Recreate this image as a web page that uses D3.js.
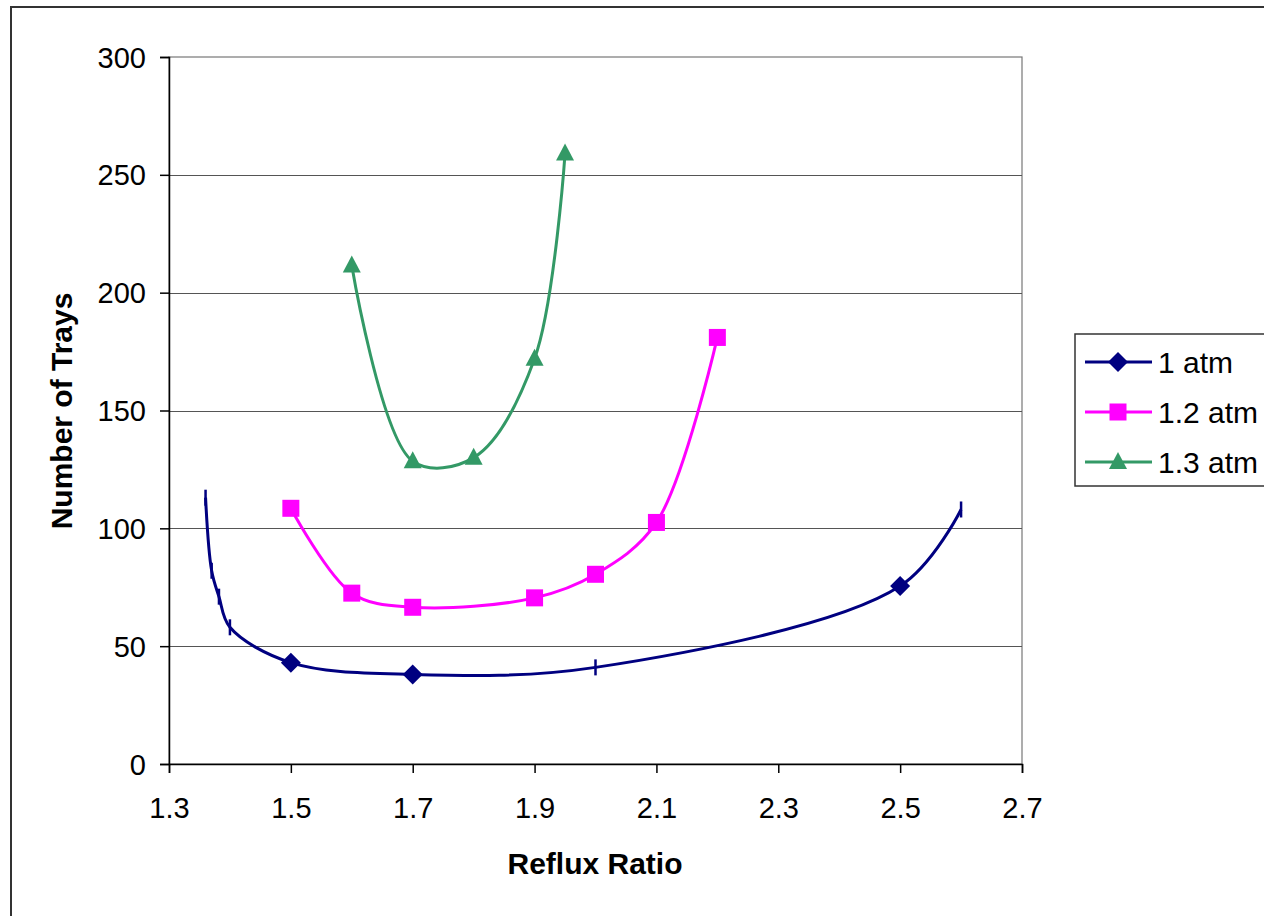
<!DOCTYPE html>
<html>
<head>
<meta charset="utf-8">
<script src="https://cdn.jsdelivr.net/npm/d3@7/dist/d3.min.js"></script>
<style>
  html, body { margin: 0; padding: 0; background: #fff; }
  svg { display: block; font-family: "Liberation Sans", Arial, sans-serif; }
</style>
</head>
<body>
<svg id="chart" width="1264" height="916"></svg>
<script>
// ---- data ----
const seriesNames = ["1 atm", "1.2 atm", "1.3 atm"];
const seriesColors = ["#000080", "#FF00FF", "#339966"];
const seriesShapes = ["diamond", "square", "triangle"];

const atm1X = [1.36, 1.37, 1.382, 1.40, 1.50, 1.70, 2.00, 2.50, 2.60];
const atm1Y = [113, 82, 71, 58, 43, 38, 41, 75.5, 108];
const atm1Marker = ["dash", "dash", "dash", "dash", "diamond", "diamond", "dash", "diamond", "dash"];

const atm12X = [1.5, 1.6, 1.7, 1.9, 2.0, 2.1, 2.2];
const atm12Y = [108.5, 72.5, 66.5, 70.5, 80.5, 102.5, 181];

const atm13X = [1.6, 1.7, 1.8, 1.9, 1.95];
const atm13Y = [211.5, 128.5, 130, 172, 259];

const xTicks = [1.3, 1.5, 1.7, 1.9, 2.1, 2.3, 2.5, 2.7];
const yTicks = [0, 50, 100, 150, 200, 250, 300];

const xTitle = "Reflux Ratio";
const yTitle = "Number of Trays";

// ---- layout ----
const svg = d3.select("#chart");
const plot = { left: 169, right: 1022, top: 57, bottom: 764 };

const x = d3.scaleLinear().domain([1.3, 2.7]).range([plot.left, plot.right]);
const y = d3.scaleLinear().domain([0, 300]).range([plot.bottom, plot.top]);

// outer chart border
svg.append("rect")
  .attr("x", 11).attr("y", 7).attr("width", 1280).attr("height", 940)
  .attr("fill", "#fff").attr("stroke", "#333").attr("stroke-width", 2);

// plot frame (gray) and gridlines
svg.append("rect")
  .attr("x", plot.left).attr("y", plot.top)
  .attr("width", plot.right - plot.left).attr("height", plot.bottom - plot.top)
  .attr("fill", "none").attr("stroke", "#777").attr("stroke-width", 1.2);

svg.append("g").selectAll("line")
  .data(yTicks.filter(d => d > 0 && d < 300))
  .join("line")
  .attr("x1", plot.left).attr("x2", plot.right)
  .attr("y1", d => Math.round(y(d)) + 0.5).attr("y2", d => Math.round(y(d)) + 0.5)
  .attr("stroke", "#555").attr("stroke-width", 1.2);

// axes
const xAxis = d3.axisBottom(x).tickValues(xTicks).tickFormat(d3.format(".1f")).tickSize(9).tickPadding(24);
const yAxis = d3.axisLeft(y).tickValues(yTicks).tickFormat(d3.format("d")).tickSize(9).tickPadding(14);

const gx = svg.append("g").attr("transform", `translate(0,${plot.bottom})`).call(xAxis);
const gy = svg.append("g").attr("transform", `translate(${plot.left},0)`).call(yAxis);
[gx, gy].forEach(g => {
  g.select(".domain").attr("stroke", "#000").attr("stroke-width", 1.5);
  g.selectAll(".tick line").attr("stroke", "#000").attr("stroke-width", 1.5);
  g.selectAll(".tick text").attr("fill", "#000").style("font-size", "29px")
    .style("font-family", "'Liberation Sans', Arial, sans-serif");
});
gx.selectAll(".tick text").attr("dy", "0.71em");
gy.selectAll(".tick text").attr("dy", "0.35em");

// axis titles
svg.append("text")
  .attr("x", 595).attr("y", 874)
  .attr("text-anchor", "middle")
  .style("font-size", "30px").style("font-weight", "bold")
  .text(xTitle);

svg.append("text")
  .attr("transform", "translate(72,411) rotate(-90)")
  .attr("text-anchor", "middle")
  .style("font-size", "30px").style("font-weight", "bold")
  .text(yTitle);

// ---- series ----
const line = d3.line()
  .x(d => x(d[0])).y(d => y(d[1]))
  .curve(d3.curveCatmullRom.alpha(0.5));

function drawMarker(g, shape, cx, cy, color) {
  if (shape === "diamond") {
    g.append("path").attr("d", `M${cx},${cy - 10}L${cx + 10},${cy}L${cx},${cy + 10}L${cx - 10},${cy}Z`).attr("fill", color);
  } else if (shape === "square") {
    g.append("rect").attr("x", cx - 8.5).attr("y", cy - 8.5).attr("width", 17).attr("height", 17).attr("fill", color);
  } else if (shape === "triangle") {
    g.append("path").attr("d", `M${cx},${cy - 10}L${cx + 9},${cy + 7}L${cx - 9},${cy + 7}Z`).attr("fill", color);
  } else if (shape === "dash") {
    g.append("line").attr("x1", cx).attr("x2", cx).attr("y1", cy - 8).attr("y2", cy + 8)
      .attr("stroke", color).attr("stroke-width", 2.5);
  }
}

const seriesData = [
  { xs: atm1X, ys: atm1Y, markers: atm1Marker },
  { xs: atm12X, ys: atm12Y, markers: atm12X.map(() => "square") },
  { xs: atm13X, ys: atm13Y, markers: atm13X.map(() => "triangle") }
];

seriesData.forEach((s, i) => {
  const pts = s.xs.map((v, j) => [v, s.ys[j]]);
  const g = svg.append("g");
  g.append("path").datum(pts).attr("d", line)
    .attr("fill", "none").attr("stroke", seriesColors[i]).attr("stroke-width", 3)
    .attr("stroke-linejoin", "round");
  pts.forEach((p, j) => drawMarker(g, s.markers[j], x(p[0]), y(p[1]), seriesColors[i]));
});

// ---- legend ----
const lg = svg.append("g");
lg.append("rect").attr("x", 1075).attr("y", 334).attr("width", 200).attr("height", 152)
  .attr("fill", "#fff").attr("stroke", "#333").attr("stroke-width", 1.5);
const rowY = [362, 412, 462];
seriesNames.forEach((name, i) => {
  lg.append("line").attr("x1", 1085).attr("x2", 1152).attr("y1", rowY[i]).attr("y2", rowY[i])
    .attr("stroke", seriesColors[i]).attr("stroke-width", 3);
  drawMarker(lg, seriesShapes[i], 1118, rowY[i], seriesColors[i]);
  lg.append("text").attr("x", 1158).attr("y", rowY[i]).attr("dy", "0.35em")
    .style("font-size", "30px").text(name);
});
</script>
</body>
</html>
